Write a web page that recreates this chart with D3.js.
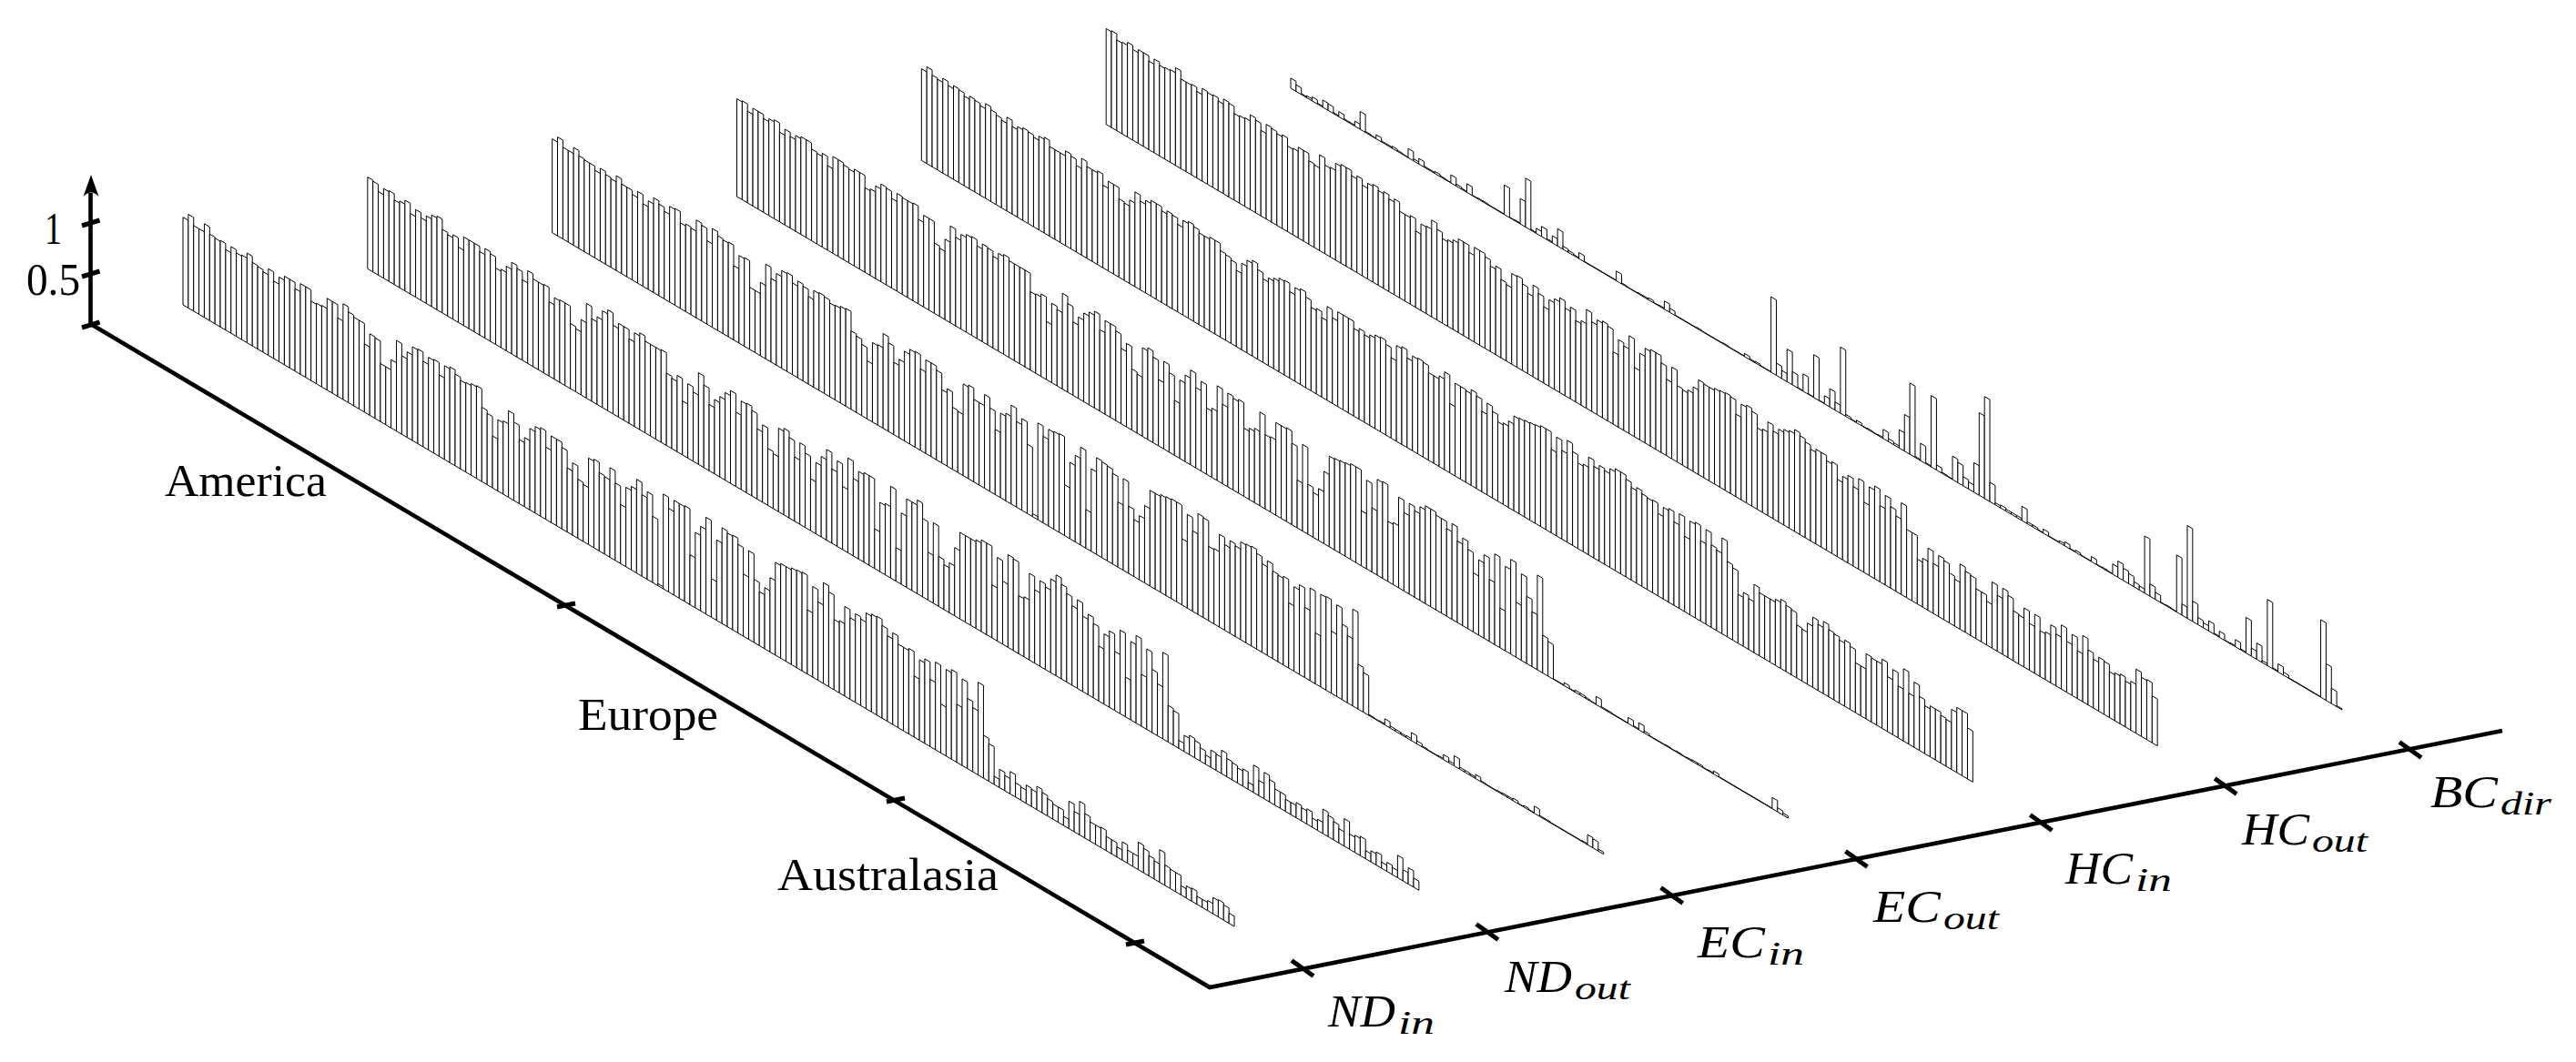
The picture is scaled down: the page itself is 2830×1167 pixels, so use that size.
<!DOCTYPE html>
<html><head><meta charset="utf-8">
<script src="https://d3js.org/d3.v7.min.js"></script>
<style>html,body{margin:0;padding:0;background:#fff}svg{display:block}text{font-family:"Liberation Serif",serif;fill:#000}</style>
</head><body><svg id="c" width="2830" height="1167"></svg>
<script>
const metrics=["ND","ND","EC","EC","HC","HC","BC"];
const metricSubs=["in","out","in","out","in","out","dir"];
const regions=["America","Europe","Australasia"];
const yTicks=[0,0.5,1];
const ndIn=[.86,.92,.84,.84,.92,.85,.84,.85,.79,.85,.82,.83,.88,.82,.81,.79,.85,.76,.83,.87,.87,.81,.89,.89,.78,.79,.8,.9,.9,.77,.94,.89,.87,.87,.67,.8,.79,.57,.57,.67,.89,.77,.84,.92,.93,.84,
.91,.92,.8,.92,.94,.9,.87,.88,.9,.91,.73,.7,.51,.7,.72,.85,.77,.63,.68,.8,.85,.87,.71,.85,.85,.8,.63,.71,.58,.56,.85,.87,.77,.76,.88,.76,.58,.78,.82,.92,.8,.86,.65,.02,.93,.82,.93,.93,.94,.49,.74,.83,.95,.38,.79,.94,.92,.93,.87,.61,.87,.62,.53,.6,.73,.91,.93,
.93,.95,.96,.97,.63,.89,.77,.99,.93,.69,.71,.88,.8,.87,.85,.94,.96,.97,.91,.84,.9,.82,.82,.84,.6,.79,.83,.66,.86,.48,.85,.88,.57,.85,.69,.63,.91,.42,.37,
.08,.18,.15,.22,.14,.13,.18,.17,.23,.2,.17,.15,.15,.09,.27,.2,.33,.24,.19,.19,.2,.14,.14,.1,.18,.13,.13,.27,.24,.2,.18,.32,.2,.19,.19,.09,.12,.13,.08,.08,.1,.16,.17,.15,.1];
const ndOut=[.9,.89,.82,.88,.89,.83,.85,.89,.79,.86,.81,.86,.9,.92,.82,.8,.83,.74,.87,.87,.87,.82,.88,.86,.75,.77,.83,.9,.87,.79,.91,.86,.86,.87,.73,.8,.81,.81,.64,.62,.74,.93,.81,.86,.95,.99,.87,.92,.92,.83,.92,.95,.9,.9,.9,.91,.71,.69,.75,.53,.73,.68,.9,.81,.65,.73,.79,.86,.91,.73,.87,.88,.84,.69,.76,.56,.54,.82,.85,.79,.63,.8,.73,.51,.7,.79,.89,.73,.84,.62,
.93,.76,.86,.88,.88,.39,.68,.7,.9,.33,.7,.87,.87,.92,.77,.47,.79,.49,.44,.49,.67,.85,.85,.85,.87,.9,.9,.52,.82,.62,.91,.9,.57,.59,.85,.72,.84,.81,.92,.99,.93,.87,.78,.87,.74,.79,.73,.54,.69,.75,.58,.82,.39,.77,.86,.51,.79,.62,.51,.85,.36,.34,
.08,.16,.19,.17,.13,.09,.17,.16,.23,.18,.17,.15,.17,.07,.27,.15,.26,.22,.16,.16,.12,.12,.15,.13,.15,.09,.11,.24,.21,.18,.14,.27,.15,.17,.19,.08,.11,.13,.06,.09,.07,.22,.11,.16,.09];
const ecIn=[.92,.97,.9,.9,.96,.91,.9,.9,.86,.91,.88,.87,.93,.88,.88,.84,.9,.81,.87,.93,.9,.86,.94,.95,.84,.86,.85,.96,.94,.82,.97,.93,.92,.93,.73,.86,.87,.61,.61,.72,.93,.82,.9,.96,.97,.9,.95,.93,.86,.95,.96,.95,.92,.93,.95,.96,.77,.75,.7,.57,.78,.79,.93,.87,.71,.77,.88,.93,.94,.8,.92,.92,.88,.72,.76,.61,.6,.9,.92,.81,.81,.92,
.82,.64,.83,.86,
.97,.84,.9,.68,.03,.95,.85,.95,.96,.97,.5,.75,.85,.96,.38,.81,.95,.94,.93,.89,.64,.9,.66,.56,.63,.76,.94,.94,.96,.97,.98,.98,.65,.92,.79,.99,.98,.73,.74,.91,.84,.91,.89,.96,.97,.98,.94,.87,.93,.86,.85,.87,.64,.83,.88,.69,.91,.5,.91,.92,.61,.9,.74,.66,.95,.44,.39,
.01,.005,.01,.06,.02,.02,.015,.02,.08,.03,.01,.005,.005,.01,.05,.02,.1,.02,.02,.015,.04,.01,.005,.005,.01,.015,.015,.025,.005,.015,.005,.07,.01,.01,.005,.005,.005,.005,.005,.005,.01,.1,.09,.02,.005];
const ecOut=[.96,.97,.9,.96,.96,.92,.95,.97,.88,.94,.9,.94,.96,.96,.9,.89,.92,.83,.95,.95,.93,.92,.95,.95,.83,.85,.91,.96,.95,.88,.96,.95,.95,.96,.83,.9,.9,.69,.67,.79,.95,.87,.93,.96,.97,.91,.96,.95,.9,.96,.98,.95,.95,.95,.95,.77,.78,.81,.57,.78,.75,.94,.87,.72,.8,.87,.91,.95,.8,.92,.92,.88,.74,.82,.6,.58,.87,.9,.84,.65,.86,.78,.54,.77,.85,.93,.79,.88,.65,.68,.93,.78,.92,.9,.92,.67,.7,.73,.92,.73,
.74,.91,.91,.92,.8,.47,.85,.49,.44,.51,.71,.89,.9,.91,.92,.94,.94,.54,.87,.63,.94,.95,.59,.61,.89,.77,.89,.85,.92,.96,.96,.93,.93,.86,.94,.8,.86,.78,.58,.74,.82,.61,.89,.39,.83,.93,.54,.85,.66,.54,.93,.37,.34,
.005,.005,.03,.005,.02,.02,.01,.005,.08,.01,.01,.005,.005,.005,.06,.01,.07,.02,.005,.005,.005,.01,.005,.01,.005,.01,.015,.015,.005,.01,.03,.005,.005,.005,.005,.005,.005,.005,.005,.005,.005,.11,.04,.02,.005];
const hcIn=[.9,.95,.9,.89,.93,.89,.92,.91,.88,.91,.9,.88,.93,.9,.88,.86,.92,.86,.89,.91,.9,.88,.92,.94,.88,.88,.88,.93,.91,.85,.95,.9,.9,.92,.81,.88,.88,.77,.76,.82,.93,.87,.91,.94,.94,.9,.93,.92,.86,.93,.95,.93,.9,.9,.92,.92,.85,.84,.82,.75,.85,.91,.94,.88,.82,.86,.89,.92,.93,.85,.92,.94,.89,.82,.84,.78,.92,.84,.93,.93,.93,.86,.89,.86,
.89,.92,.93,.89,.79,.94,.96,.88,.93,.94,.93,.86,.86,.89,.96,.68,.91,.91,.9,.94,.91,.79,.9,.85,.78,.8,.85,.93,.94,.95,.96,.97,.99,.99,
.82,.97,.87,1,.92,.84,.86,.96,.9,.94,.92,.97,1,1,.96,.91,.94,.91,.9,.91,.81,.9,.92,.82,.93,.74,.92,.94,.79,.93,.81,.79,.94,.74,
.71,.48,.53,.5,.67,.62,.62,.62,.65,.68,.65,.64,.52,.51,.6,.69,.65,.71,.66,.65,.62,.65,.62,.49,.49,.64,.63,.63,.68,.54,.64,.51,.71,.5,.64,.53,.47,.5,.5,.47,.46,.59,.64,.64,.5];
const hcOut=[.94,.95,.89,.9,.93,.89,.92,.92,.87,.92,.89,.9,.91,.96,.88,.88,.89,.85,.91,.9,.91,.88,.93,.92,.85,.86,.87,.93,.91,.84,.93,.92,.9,.92,.84,.85,.89,.89,.82,.81,.94,.87,.88,.95,.97,.97,.92,.95,.89,
.94,.96,.93,.95,.91,.94,.85,.85,.87,.75,.85,.86,.95,.89,.83,.85,.88,.92,.92,.85,.93,.93,.9,.84,.87,.77,.75,.89,.9,.85,.79,.9,.85,.75,.85,.89,.93,.86,.9,.8,.83,.97,.88,.93,.95,.93,.71,.86,.83,.96,.68,.85,.93,.95,.95,.88,.75,.9,.75,.74,.77,.83,.93,.92,.92,.94,.95,.96,.95,.81,.94,.96,.93,.8,.82,.92,.86,.91,.94,.96,1,.97,.94,.9,.93,
.93,.88,.9,.76,.82,.86,.78,.89,.69,.87,.91,.75,.88,.8,.74,.9,.67,.67,.44,.48,.61,.49,.6,.58,.49,.46,.64,.6,.59,.49,.49,.43,.65,.55,.65,.61,.49,.48,.58,.46,.58,.45,.47,.57,.51,.63,.5,.6,.47,.65,.54,.48,.53,.52,.45,.47,.49,.45,.48,.63,.58,.59,.46];
const bcDir=[.1,.065,.01,.02,.04,.01,.07,.065,.01,.05,.01,.01,.05,.175,.01,.005,.04,.01,.01,.02,.01,.005,.09,.02,.055,.01,.01,.02,.01,.005,.08,.02,.01,.085,.005,.01,.01,.005,.005,.005,.29,.005,.01,.25,.48,.01,.05,.1,.01,.07,.17,.03,.02,.01,.06,.005,.005,.005,.005,.005,.005,.095,.01,.005,.005,.01,.01,.02,.005,.01,.08,.04,.005,.005,.005,.005,.01,.005,.005,.005,.005,.01,.005,.005,.005,.03,.01,.015,.005,.005,
.74,.12,.08,.32,.13,.005,.17,.005,.42,.005,.08,.18,.08,.65,.02,.005,.025,.005,.01,.005,.01,.09,.03,.02,.18,.36,.7,.01,.17,.01,.7,.05,.01,.005,.23,.2,.09,.07,.29,.81,1,.19,.02,.03,.02,.02,.02,.14,.02,.02,.005,.04,.005,.005,.02,.04,.005,.02,.005,.005,.05,.005,.01,.005,.1,.16,.12,.1,.05,.04,.56,.12,.07,.005,.01,.005,.56,.11,.91,.2,.07,.05,.1,.01,.06,.005,.01,.07,.01,.35,.08,.16,.02,.65,.01,.08,.03,.005,.005,.005,.005,.005,.005,.76,.36,.15,.01];
const seriesList=[ndIn,ndOut,ecIn,ecOut,hcIn,hcOut,bcDir];

const N=197;
const svg=d3.select("#c");
const seriesX=d3.scaleLinear().domain([0,6]).range([201,1418]);
const seriesY=d3.scaleLinear().domain([0,6]).range([335,97]);
const alongX=d3.scaleLinear().domain([0,N]).range([0,1155]);
const alongY=d3.scaleLinear().domain([0,N]).range([0,683]);
const valueH=d3.scaleLinear().domain([0,1]).range([0,112]);

const barG=svg.append("g");
seriesList.forEach((vals,s)=>{
  const g=barG.append("g");
  const pts=(d,i)=>{
    const x0=seriesX(s)+alongX(i),x1=seriesX(s)+alongX(i+1);
    const y0=seriesY(s)+alongY(i),y1=seriesY(s)+alongY(i+1),h=valueH(d);
    return [[x0,y0],[x0,y0-h],[x1,y1-h],[x1,y1]].join(" ");
  };
  g.selectAll("polygon").data(vals.slice(0,N)).join("polygon")
    .attr("points",pts).attr("fill","#fff").attr("stroke","#000")
    .attr("stroke-width",1).attr("stroke-linejoin","miter");
});

// axes
const origin=[99.5,356], corner=[1329,1085], endX=[2749,803];
const axis=svg.append("g").attr("stroke","#000").attr("fill","none").attr("stroke-linecap","square");
axis.append("path").attr("stroke-width",4.6).attr("stroke-linejoin","miter").attr("stroke-linecap","butt")
  .attr("d",d3.line()([[origin[0],212],origin,corner,endX]));
svg.append("path").attr("fill","#000").attr("d","M100,192 L108.5,216 Q100,207 91.5,216 Z");
const yPos=d3.scaleLinear().domain([0,1]).range([357,245]);
yTicks.forEach(t=>axis.append("line").attr("stroke-width",5).attr("stroke-linecap","butt")
  .attr("x1",90).attr("x2",109.5).attr("y1",yPos(t)+3).attr("y2",yPos(t)-3));
const regionTickX=d3.scaleOrdinal().domain([0,1,2]).range([622,984,1247]);
const regionTickY=d3.scaleOrdinal().domain([0,1,2]).range([665,879,1036]);
[0,1,2].forEach(k=>axis.append("line").attr("stroke-width",5).attr("stroke-linecap","butt")
  .attr("x1",regionTickX(k)-10).attr("x2",regionTickX(k)+10)
  .attr("y1",regionTickY(k)+2).attr("y2",regionTickY(k)-2));
const catTickX=d3.scaleLinear().domain([0,6]).range([1431,2648]);
const catTickY=d3.scaleLinear().domain([0,6]).range([1064,824]);
metrics.forEach((m,k)=>axis.append("line").attr("stroke-width",5).attr("stroke-linecap","butt")
  .attr("x1",catTickX(k)-12).attr("x2",catTickX(k)+12)
  .attr("y1",catTickY(k)-8.5).attr("y2",catTickY(k)+8.5));

// labels
const txt=(s,x,y,fs,len,it)=>svg.append("text").text(s).attr("x",x).attr("y",y)
  .attr("font-size",fs).attr("textLength",len).attr("lengthAdjust","spacingAndGlyphs")
  .attr("font-style",it?"italic":"normal");
txt(String(yTicks[2]),49,268,50,19);
txt(String(yTicks[1]),29,324,50,59);
const regionLabelX=[181,635,854], regionLabelW=[178,154,243], regionLabelY=[545,802,978];
regions.forEach((r,k)=>txt(r,regionLabelX[k],regionLabelY[k],50,regionLabelW[k]));
const labX=[1459,1653,1865,2058,2269,2463,2670];
const labY=[1128,1090,1052,1013,971,928,887];
const subW={in:40,out:61,dir:56};
metrics.forEach((m,k)=>{
  const x=labX[k],y=labY[k];
  txt(m,x,y,50,74,true);
  txt(metricSubs[k],x+77,y+8,35,subW[metricSubs[k]],true);
});
</script></body></html>
